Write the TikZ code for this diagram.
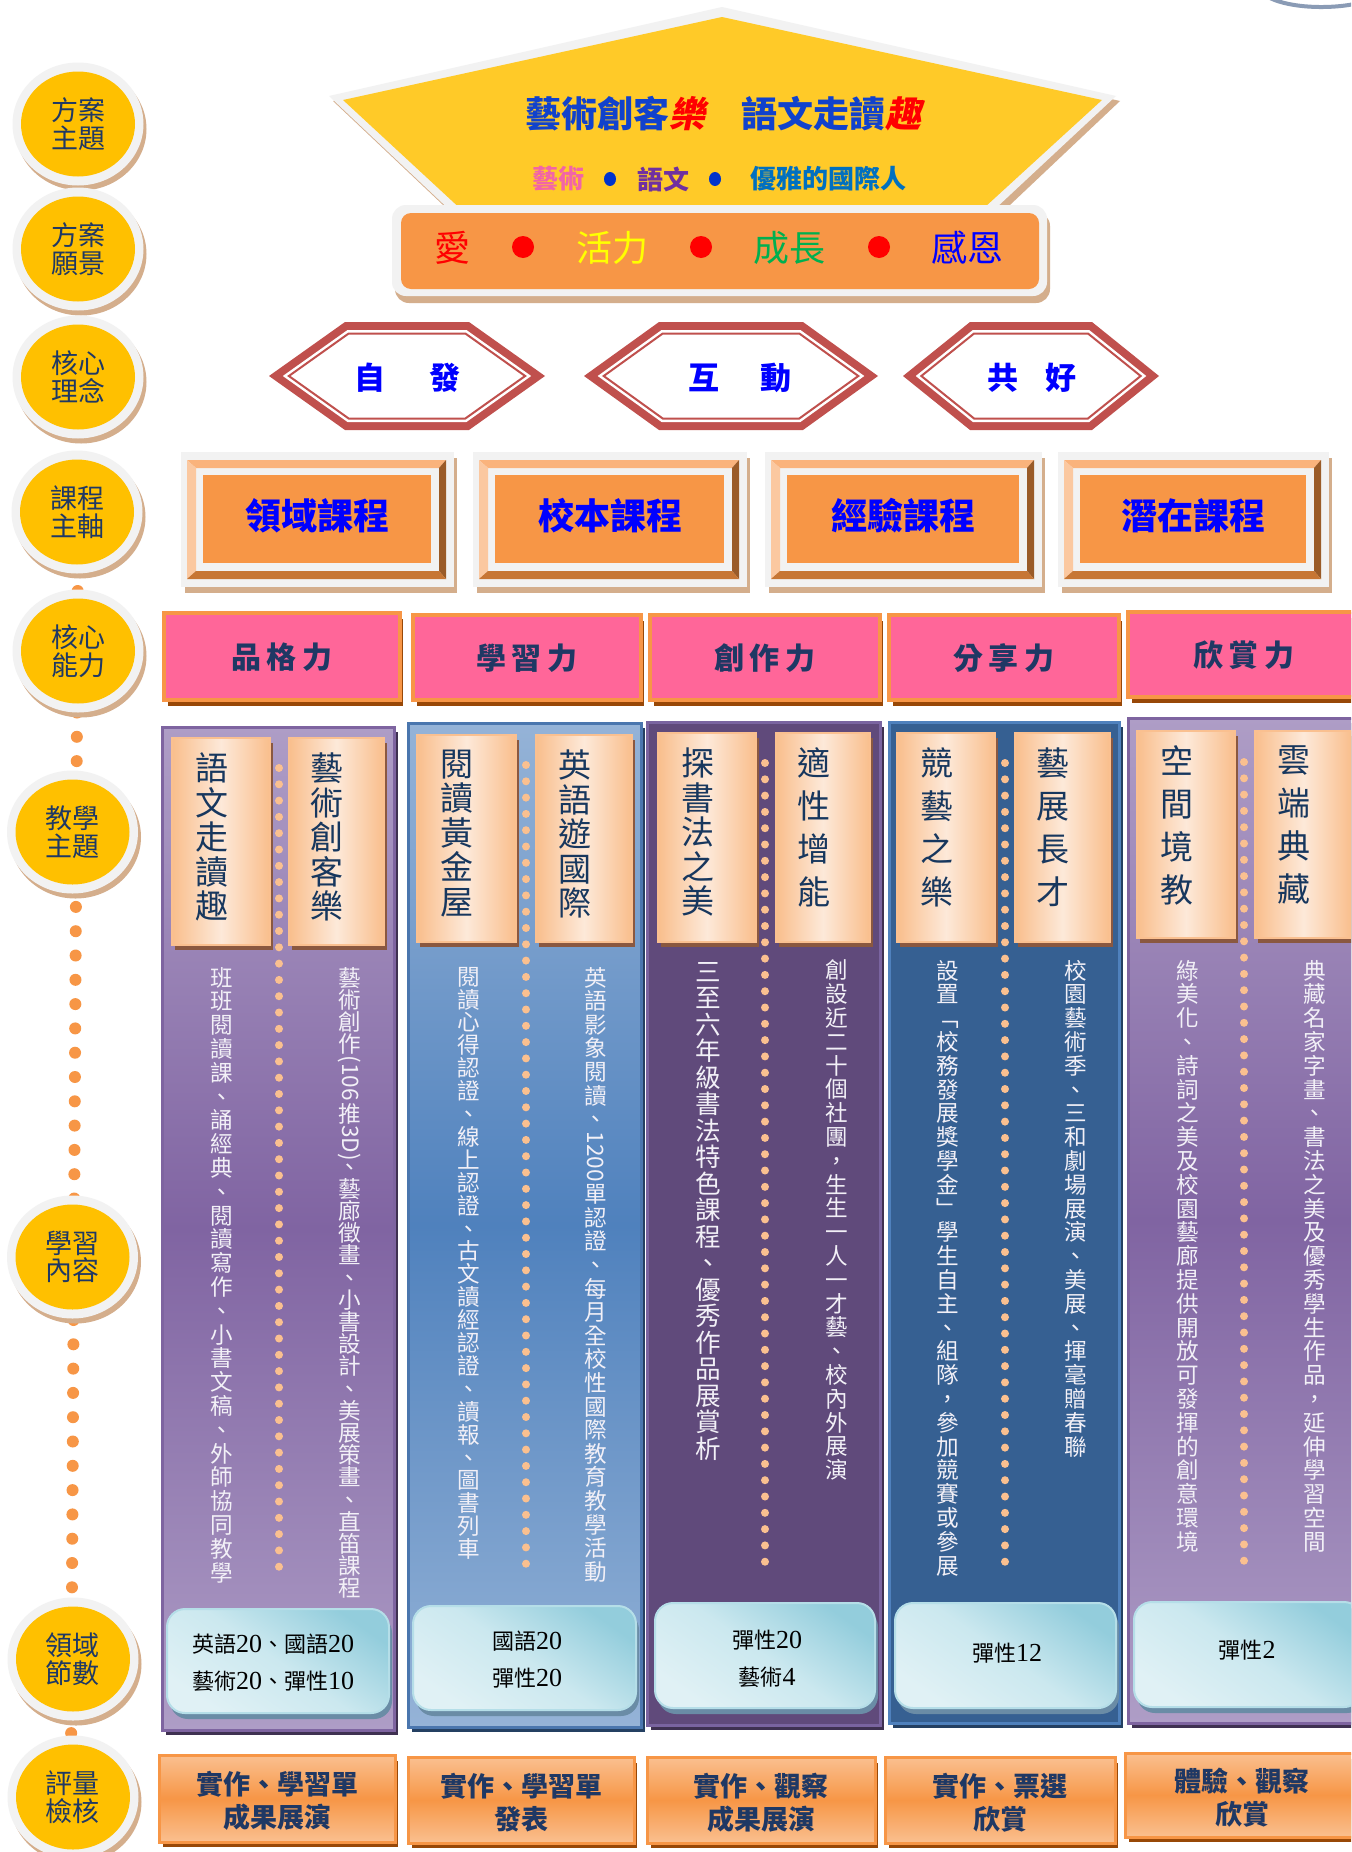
\documentclass[tikz,border=0pt]{standalone}
\usepackage{fontspec}
\usepackage{graphicx}
\setmainfont{Noto Sans CJK TC}
\newfontfamily\vfont{Noto Sans CJK TC}[RawFeature=+vert]
\newfontfamily\slantfont{Noto Sans CJK TC}[FakeSlant=0.2]
\newfontfamily\digfont{Liberation Serif}

\definecolor{circyellow}{HTML}{FFC000}
\definecolor{ringwhite}{HTML}{F2F2F2}
\definecolor{tanshadow}{HTML}{D4AE8C}
\definecolor{dotorange}{HTML}{F79646}
\definecolor{navy}{HTML}{1F3864}
\definecolor{pentyellow}{HTML}{FFCA28}
\definecolor{boxorange}{HTML}{F79646}
\definecolor{titleblue}{HTML}{1142CC}
\definecolor{hexred}{HTML}{C0504D}
\definecolor{textblue}{HTML}{0000FF}
\definecolor{bevtop}{HTML}{FAB37C}
\definecolor{bevleft}{HTML}{FBC8A0}
\definecolor{bevright}{HTML}{9A5B28}
\definecolor{bevbottom}{HTML}{C77634}
\definecolor{abpink}{HTML}{FF6699}
\definecolor{brownshadow}{HTML}{984807}
\definecolor{purpmid}{HTML}{8064A2}
\definecolor{purplight}{HTML}{AE9DC6}
\definecolor{purpdark}{HTML}{3F3151}
\definecolor{purpbord}{HTML}{7E64A0}
\definecolor{bluemid}{HTML}{4F81BD}
\definecolor{bluelight}{HTML}{95B3D7}
\definecolor{bluedark}{HTML}{244062}
\definecolor{bluebord}{HTML}{4A76AE}
\definecolor{dpurple}{HTML}{604A7B}
\definecolor{dpurplebord}{HTML}{7A64A0}
\definecolor{dblue}{HTML}{366092}
\definecolor{dbluebord}{HTML}{4F81BD}
\definecolor{peach}{HTML}{F9BE8C}
\definecolor{peachlight}{HTML}{FDE9D9}
\definecolor{peachborder}{HTML}{FAC090}
\definecolor{paneldot}{HTML}{FAC090}
\definecolor{cardshadow}{HTML}{8A5840}
\definecolor{cardtext}{HTML}{17375E}
\definecolor{contenttext}{HTML}{F2F0F7}
\definecolor{cyanlight}{HTML}{E0F1F5}
\definecolor{cyanmid}{HTML}{CBE8EF}
\definecolor{cyandark}{HTML}{93CDDC}
\definecolor{cyanborder}{HTML}{B5DEE8}
\definecolor{cyanshadow}{HTML}{6A8CA6}
\definecolor{evaltop}{HTML}{FAC090}
\definecolor{visyellow}{HTML}{FFFF00}
\definecolor{visgreen}{HTML}{00B050}
\definecolor{vispurple}{HTML}{7030A0}
\definecolor{visteal}{HTML}{0070C0}
\definecolor{vispink}{HTML}{F264A8}
\definecolor{dotblue}{HTML}{0033CC}
\definecolor{arcgray}{HTML}{8A9BB5}

\newcommand\rotlatin[1]{\raisebox{0.86em}{\rotatebox{-90}{#1}}}
\newcommand\numd[1]{{\digfont\fontsize{13}{13}\selectfont #1}}

\ExplSyntaxOn
\cs_new_protected:Npn \resk_vitem:n #1 { \hbox_to_wd:nn {1.2em} { \hss #1 \hss } }
\NewDocumentCommand \vstack { m m }
  {
    \vbox:n
      {
        \baselineskip = #1 \relax
        \lineskiplimit = 0pt \relax
        \lineskip = 0.12em \relax
        \tl_map_function:nN {#2} \resk_vitem:n
      }
  }
\ExplSyntaxOff

\tikzset{
  circtext/.style={font=\fontsize{13.5}{13.8}\selectfont, text=navy, align=center},
  vistext/.style={font=\fontsize{18}{20}\selectfont},
  hextext/.style={font=\fontsize{15.5}{16}\selectfont\bfseries, text=textblue},
  coursetext/.style={font=\fontsize{18}{19}\selectfont\bfseries, text=textblue},
  abiltext/.style={font=\fontsize{15}{16}\selectfont\bfseries, text=navy},
  cardtxt/.style={font=\fontsize{16.5}{17}\vfont, text=cardtext},
  conttxt/.style={font=\fontsize{11.3}{12}\vfont, text=contenttext},
  fieldtxt/.style={font=\fontsize{11}{18.5}\selectfont, text=black, align=center},
  evaltxt/.style={font=\fontsize{13.5}{16.5}\selectfont\bfseries, text=navy, align=center},
}

\newcommand\lblcirc[4]{%
  \fill[tanshadow] (#2+3,#3+5) ellipse[x radius=65.5,y radius=61.5];
  \fill[ringwhite] (#2,#3) ellipse[x radius=65.5,y radius=61.5];
  \fill[circyellow] (#2,#3) ellipse[x radius=57,y radius=52.5];
  \node[circtext] (#1) at (#2,#3) {#4};}

\newcommand\hexlayer[7]{%
  \pgfmathsetmacro\hxh{#5-#6}%
  \pgfmathsetmacro\hxw{#3-#6*sqrt(#4*#4+#5*#5)/#5}%
  \pgfmathsetmacro\hxd{#4*\hxh/#5}%
  \path[#7] (#1-\hxw,#2) -- (#1-\hxw+\hxd,#2-\hxh) -- (#1+\hxw-\hxd,#2-\hxh) -- (#1+\hxw,#2)
     -- (#1+\hxw-\hxd,#2+\hxh) -- (#1-\hxw+\hxd,#2+\hxh) -- cycle;}

\newcommand\hexagonbox[7]{% name cx cy hw d textx text
  \hexlayer{#2}{#3}{#4}{#5}{54}{0}{fill=hexred}
  \hexlayer{#2}{#3}{#4}{#5}{54}{8}{fill=white}
  \hexlayer{#2}{#3}{#4}{#5}{54}{11.5}{draw=hexred,line width=1pt}
  \node[hextext] (#1) at (#6,#3+2) {#7};}

\newcommand\coursebox[4]{%
  \fill[tanshadow] (#2+4,458) rectangle (#3+3,593);
  \fill[ringwhite] (#2,452) rectangle (#3,587);
  \fill[bevtop] (#2+6,460) -- (#3-8,460) -- (#3-15,468) -- (#2+15,468) -- cycle;
  \fill[bevleft] (#2+6,460) -- (#2+15,468) -- (#2+15,571) -- (#2+6,579) -- cycle;
  \fill[bevright] (#3-8,460) -- (#3-8,579) -- (#3-15,571) -- (#3-15,468) -- cycle;
  \fill[bevbottom] (#2+6,579) -- (#3-8,579) -- (#3-15,571) -- (#2+15,571) -- cycle;
  \fill[boxorange] (#2+22,475) rectangle (#3-23,563);
  \node[coursetext] (#1) at ({(#2+#3)/2},516) {#4};}

\newcommand\abilitybox[6]{%
  \fill[brownshadow] (#2+4,#3+6) rectangle (#4+3,#5+6);
  \filldraw[fill=abpink,draw=boxorange,line width=1.75pt] (#2,#3) rectangle (#4,#5);
  \node[abiltext] (#1) at ({(#2+#4)/2},{(#3+#5)/2+1}) {#6};}

\newcommand\panelbox[7]{%
  \fill[#5] (#1+4,#2+5) rectangle (#3+4,#4+5);
  \path[#6,draw=#7,line width=1.5pt] (#1,#2) rectangle (#3,#4);}

\newcommand\titlecard[7]{%
  \fill[cardshadow] (#2+3,#4+5) rectangle (#3+3,#5+5);
  \path[left color=peach,right color=peach,middle color=peachlight,draw=peachborder,line width=0.75pt] (#2,#4) rectangle (#3,#5);
  \node[cardtxt,anchor=north] (#1) at ({(#2+#3)/2-9.5},#4+15) {\vstack{#6}{#7}};}

\newcommand\contentcol[5]{%
  \node[conttxt,anchor=north] (#1) at (#2,#3) {\vstack{#4}{#5}};}

\newcommand\fieldbox[8]{%
  \fill[cyanshadow,rounded corners=9pt] (#2+3,#3+6) rectangle (#4+3,#5+6);
  \path[top color=cyandark,bottom color=cyanlight,middle color=cyanmid,shading angle=-35,draw=cyanborder,line width=1pt,rounded corners=9pt] (#2,#3) rectangle (#4,#5);
  \node[fieldtxt] (#1) at (#6,#7) {#8};}

\newcommand\evalbox[8]{%
  \fill[brownshadow] (#2+4,#3+6) rectangle (#4+3,#5+5);
  \path[top color=evaltop,bottom color=evaltop,middle color=boxorange,draw=boxorange,line width=1.5pt] (#2,#3) rectangle (#4,#5);
  \node[evaltxt] (#1) at (#6,#7) {#8};}

\begin{document}
\begin{tikzpicture}[x=0.5pt,y=-0.5pt,every node/.style={inner sep=0pt,outer sep=0pt}]
\useasboundingbox (0,0) rectangle (1351,1852);
\fill[white] (0,0) rectangle (1351,1852);
\clip (0,0) rectangle (1351,1852);

% small arc at the top right
\draw[arcgray,line width=2pt] (1268,-3) .. controls (1292,10) and (1345,10) .. (1372,-1);

% chain of dots behind the left circles
\foreach \i in {0,...,52} {
  \pgfmathsetmacro\dy{591+24.3*\i}
  \pgfmathsetmacro\dx{77-(\dy-712.5)*5/875}
  \fill[dotorange] (\dx,\dy) circle[radius=6];
}

% left label circles
\lblcirc{c1}{78}{124}{方案\\主題}
\lblcirc{c2}{78}{249}{方案\\願景}
\lblcirc{c3}{78}{377}{核心\\理念}
\lblcirc{c4}{77}{512}{課程\\主軸}
\lblcirc{c5}{78}{651}{核心\\能力}
\lblcirc{c6}{72.5}{832}{教學\\主題}
\lblcirc{c7}{72.5}{1257}{學習\\內容}
\lblcirc{c8}{73}{1659}{領域\\節數}
\lblcirc{c9}{73}{1797}{評量\\檢核}

% pentagon (theme)
\fill[tanshadow] (725,12) -- (333,101) -- (497,256) -- (956,256) -- (1120,101) -- cycle;
\fill[ringwhite] (722,7) -- (329,96) -- (492,250) -- (951,250) -- (1116,96) -- cycle;
\fill[pentyellow] (722,17) -- (343,100) -- (505,250) -- (938,250) -- (1102,100) -- cycle;
\node[font=\fontsize{18}{20}\selectfont\bfseries] (theme) at (723,114)
  {\textcolor{titleblue}{藝術創客}{\slantfont\bfseries\color{red}樂}\hspace{1em}\textcolor{titleblue}{語文走讀}{\slantfont\bfseries\color{red}趣}};
\node[font=\fontsize{13}{14}\selectfont\bfseries,text=vispink] (sub1) at (558,179) {藝術};
\fill[dotblue] (610,179) ellipse[x radius=6,y radius=7];
\node[font=\fontsize{13}{14}\selectfont\bfseries,text=vispurple] (sub2) at (663,179) {語文};
\fill[dotblue] (715,179) ellipse[x radius=6,y radius=7];
\node[font=\fontsize{13}{14}\selectfont\bfseries,text=visteal] (sub3) at (828,179) {優雅的國際人};

% vision box
\fill[tanshadow,rounded corners=7pt] (395,212) rectangle (1050,303);
\fill[ringwhite,rounded corners=7pt] (392,205) rectangle (1047,296);
\fill[boxorange,rounded corners=5pt] (401,213) rectangle (1039,289);
\node[vistext,text=red] (v1) at (452,248) {愛};
\fill[red] (523,247) circle[radius=11];
\node[vistext,text=visyellow] (v2) at (612,248) {活力};
\fill[red] (701,247) circle[radius=11];
\node[vistext,text=visgreen] (v3) at (789,248) {成長};
\fill[red] (879,247) circle[radius=11];
\node[vistext,text=textblue] (v4) at (967,248) {感恩};

% core ideas (hexagons)
\hexagonbox{h1}{407}{376}{138}{76}{407.5}{自\hspace{1.4em}發}
\hexagonbox{h2}{731}{376}{147}{75}{740}{互\hspace{1.34em}動}
\hexagonbox{h3}{1031}{376}{128}{67}{1032}{共\hspace{0.84em}好}

% course axes
\coursebox{k1}{181}{454}{領域課程}
\coursebox{k2}{473}{747}{校本課程}
\coursebox{k3}{765}{1042}{經驗課程}
\coursebox{k4}{1058}{1329}{潛在課程}

% core abilities
\abilitybox{a1}{164}{613}{400}{700}{品\hspace{.2em}格\hspace{.2em}力}
\abilitybox{a2}{413}{615}{641}{700}{學\hspace{.2em}習\hspace{.2em}力}
\abilitybox{a3}{650}{615}{880}{700}{創\hspace{.2em}作\hspace{.2em}力}
\abilitybox{a4}{889}{615}{1119}{700}{分\hspace{.2em}享\hspace{.2em}力}
\abilitybox{a5}{1128}{612}{1360}{697}{欣\hspace{.2em}賞\hspace{.2em}力}

% panels
\panelbox{162}{727}{394}{1730}{purpdark}{top color=purplight,bottom color=purplight,middle color=purpmid}{purpbord}
\panelbox{408}{723}{641}{1727}{bluedark}{top color=bluelight,bottom color=bluelight,middle color=bluemid}{bluebord}
\panelbox{647}{722}{880}{1725}{purpdark}{fill=dpurple}{dpurplebord}
\panelbox{889}{722}{1119}{1723}{bluedark}{fill=dblue}{dbluebord}
\panelbox{1128}{718}{1362}{1723}{purpdark}{top color=purplight,bottom color=purplight,middle color=purpmid}{purpbord}

% dots inside the panels
\foreach \px/\ya in {279/768,526/765,765/763,1005/763,1244/762} {
  \foreach \k in {0,...,49} {
    \fill[paneldot] (\px,\ya+16.3*\k) circle[radius=4];
  }
}

% teaching themes (title cards)
\titlecard{t11}{172}{270}{738}{945}{17.25pt}{語文走讀趣}
\titlecard{t12}{289}{384}{738}{945}{17.25pt}{藝術創客樂}
\titlecard{t21}{417}{516}{735}{942}{17.25pt}{閱讀黃金屋}
\titlecard{t22}{536}{632}{735}{942}{17.25pt}{英語遊國際}
\titlecard{t31}{658}{756}{733}{942}{17.25pt}{探書法之美}
\titlecard{t32}{776}{870}{733}{942}{21.5pt}{適性增能}
\titlecard{t41}{897}{995}{733}{942}{21.5pt}{競藝之樂}
\titlecard{t42}{1015}{1110}{733}{942}{21.5pt}{藝展長才}
\titlecard{t51}{1137}{1235}{731}{938}{21.5pt}{空間境教}
\titlecard{t52}{1255}{1352}{731}{938}{21.5pt}{雲端典藏}

% learning contents
\contentcol{c11}{222}{967}{11.9pt}{班班閱讀課、誦經典、閱讀寫作、小書文稿、外師協同教學}
\contentcol{c12}{350}{967}{11.1pt}{藝術創作{\rotlatin{(106}}推{\rotlatin{3D)}}、藝廊徵畫、小書設計、美展策畫、直笛課程}
\contentcol{c21}{469}{967}{11.45pt}{閱讀心得認證、線上認證、古文讀經認證、讀報、圖書列車}
\contentcol{c22}{596}{967}{11.8pt}{英語影象閱讀、{\rotlatin{1200}}單認證、每月全校性國際教育教學活動}
\node[conttxt,font=\fontsize{12.8}{13}\vfont,anchor=north] (c31) at (708,962) {\vstack{13.25pt}{三至六年級書法特色課程、優秀作品展賞析}};
\contentcol{c32}{837}{960}{11.9pt}{創設近二十個社團，生生一人一才藝、校內外展演}
\contentcol{c41}{948}{960}{11.9pt}{設置「校務發展獎學金」學生自主、組隊，參加競賽或參展}
\contentcol{c42}{1076}{960}{11.9pt}{校園藝術季、三和劇場展演、美展、揮毫贈春聯}
\contentcol{c51}{1188}{960}{11.9pt}{綠美化、詩詞之美及校園藝廊提供開放可發揮的創意環境}
\contentcol{c52}{1315}{960}{11.9pt}{典藏名家字畫、書法之美及優秀學生作品，延伸學習空間}

% field periods
\fieldbox{f1}{167}{1609}{389}{1713}{273}{1663}{英語\numd{20}、國語\numd{20}\\藝術\numd{20}、彈性\numd{10}}
\fieldbox{f2}{413}{1606}{636}{1710}{527}{1660}{國語\numd{20}\\彈性\numd{20}}
\fieldbox{f3}{655}{1603}{875}{1708}{767}{1659}{彈性\numd{20}\\藝術\numd{4}}
\fieldbox{f4}{895}{1603}{1116}{1708}{1007}{1653}{彈性\numd{12}}
\fieldbox{f5}{1134}{1602}{1362}{1707}{1247}{1650}{彈性\numd{2}}

% assessment
\evalbox{e1}{159}{1755}{395}{1842}{277}{1801}{實作、學習單\\成果展演}
\evalbox{e2}{408}{1757}{634}{1843}{521}{1803}{實作、學習單\\發表}
\evalbox{e3}{647}{1757}{875}{1843}{761}{1803}{實作、觀察\\成果展演}
\evalbox{e4}{885}{1757}{1115}{1843}{1000}{1803}{實作、票選\\欣賞}
\evalbox{e5}{1125}{1753}{1362}{1837}{1242}{1798}{體驗、觀察\\欣賞}
\end{tikzpicture}
\end{document}
